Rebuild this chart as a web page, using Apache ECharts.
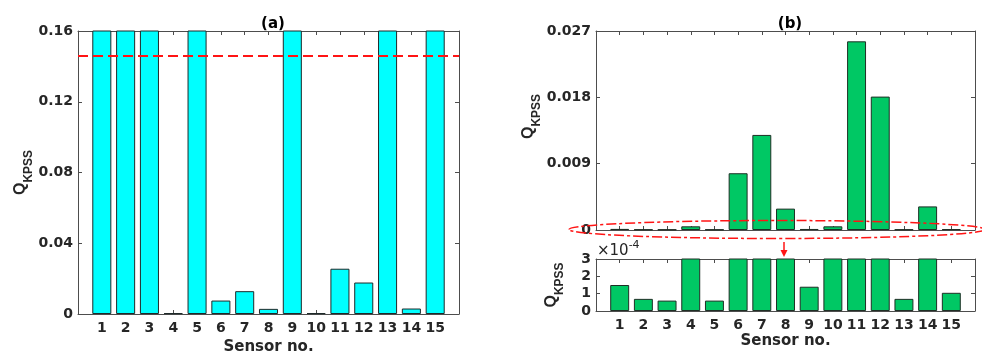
<!DOCTYPE html>
<html><head><meta charset="utf-8">
<script src="https://cdn.jsdelivr.net/npm/echarts@6/dist/echarts.min.js"></script>
<style>html,body{margin:0;padding:0;background:#fff}#c{width:982px;height:354px}</style>
</head><body><div id="c"></div>
<script>
// ---- data ----
const sensors = [1, 2, 3, 4, 5, 6, 7, 8, 9, 10, 11, 12, 13, 14, 15];
// (a) raw KPSS statistic (sensors 1,2,3,5,9,13,15 exceed the 0.16 axis limit)
const qA = [0.62, 0.55, 0.48, 0.0005, 0.41, 0.0076, 0.0129, 0.0029, 0.36, 0.0005, 0.0256, 0.0178, 0.30, 0.0031, 0.44];
// (b) after processing
const qB = [0.00015, 0.00007, 0.00006, 0.0005, 0.00006, 0.0077, 0.0129, 0.0029, 0.00014, 0.0005, 0.0256, 0.0181, 0.00007, 0.0032, 0.000105];
const threshold = 0.146;
const yTicksA = [0, 0.04, 0.08, 0.12, 0.16];
const yTicksB = [0, 0.009, 0.018, 0.027];
const yTicksZoom = [0, 0.0001, 0.0002, 0.0003];
const titles = ['(a)', '(b)'];
const xName = 'Sensor no.';

// ---- styles ----
const FONT = 'DejaVu Sans';
const NFONT = 'Liberation Sans';
const TXT = '#262626';
const AX = '#4d4d4d';
function yNameStyle(shiftPad) {
  return {
    padding: [0, 0, 0, shiftPad],
    rich: {
      q: { fontFamily: NFONT, fontWeight: 'bold', fontSize: 16, lineHeight: 16, color: TXT },
      s: { fontFamily: NFONT, fontWeight: 'bold', fontSize: 12, lineHeight: 12, color: TXT, padding: [16, 0, 0, 0] }
    }
  };
}

function xAxes(gi, showLabels, withName) {
  return [
    {
      type: 'value', gridIndex: gi, position: 'bottom', min: 0, max: 16,
      axisLine: { show: true, onZero: false, lineStyle: { color: AX, width: 1 } },
      axisTick: { show: true, inside: true, length: 4, lineStyle: { color: AX }, customValues: sensors },
      axisLabel: { show: showLabels, customValues: sensors, fontFamily: FONT, fontWeight: 'bold', fontSize: 14, color: TXT, margin: 7 },
      splitLine: { show: false },
      name: withName ? xName : '', nameLocation: 'middle', nameGap: 23,
      nameTextStyle: { fontFamily: FONT, fontWeight: 'bold', fontSize: 15, color: TXT }
    },
    {
      type: 'value', gridIndex: gi, position: 'top', min: 0, max: 16,
      axisLine: { show: true, onZero: false, lineStyle: { color: AX, width: 1 } },
      axisTick: { show: true, inside: true, length: 4, lineStyle: { color: AX }, customValues: sensors },
      axisLabel: { show: false }, splitLine: { show: false }
    }
  ];
}
function yAxes(gi, max, ticks, fmt, nameGap, shiftPad) {
  return [
    {
      type: 'value', gridIndex: gi, position: 'left', min: 0, max: max,
      axisLine: { show: true, onZero: false, lineStyle: { color: AX, width: 1 } },
      axisTick: { show: true, inside: true, length: 4, lineStyle: { color: AX }, customValues: ticks },
      axisLabel: { show: true, customValues: ticks, formatter: fmt, fontFamily: FONT, fontWeight: 'bold', fontSize: 14, color: TXT, margin: 5 },
      splitLine: { show: false },
      name: '{q|Q}{s|KPSS}', nameLocation: 'middle', nameRotate: 90, nameGap: nameGap,
      nameTextStyle: yNameStyle(shiftPad)
    },
    {
      type: 'value', gridIndex: gi, position: 'right', min: 0, max: max,
      axisLine: { show: true, onZero: false, lineStyle: { color: AX, width: 1 } },
      axisTick: { show: true, inside: true, length: 4, lineStyle: { color: AX }, customValues: ticks },
      axisLabel: { show: false }, splitLine: { show: false }
    }
  ];
}

const fmtA = v => v === 0 ? '0' : v.toFixed(2);
const fmtB = v => v === 0 ? '0' : v.toFixed(3);
const fmtZ = v => String(Math.round(v * 1e4));

const toPairs = arr => sensors.map((s, i) => [s, arr[i]]);

const gridBase = { containLabel: false, outerBoundsMode: 'none' };

const option = {
  animation: false,
  backgroundColor: '#fff',
  title: [
    { text: titles[0], left: 268, top: 12, textAlign: 'center', textStyle: { fontFamily: FONT, fontWeight: 'bold', fontSize: 15, color: '#000' } },
    { text: titles[1], left: 785, top: 12, textAlign: 'center', textStyle: { fontFamily: FONT, fontWeight: 'bold', fontSize: 15, color: '#000' } }
  ],
  grid: [
    Object.assign({ left: 78, top: 31, width: 381, height: 283 }, gridBase),
    Object.assign({ left: 596, top: 31, width: 379, height: 199 }, gridBase),
    Object.assign({ left: 596, top: 259, width: 379, height: 52 }, gridBase)
  ],
  xAxis: [].concat(xAxes(0, true, true), xAxes(1, false, false), xAxes(2, true, true)),
  yAxis: [].concat(
    yAxes(0, 0.16, yTicksA, fmtA, 41, 0),
    yAxes(1, 0.027, yTicksB, fmtB, 57, 28),
    yAxes(2, 0.0003, yTicksZoom, fmtZ, 36, 0)
  ),
  series: [
    {
      type: 'bar', xAxisIndex: 0, yAxisIndex: 0, data: toPairs(qA), barWidth: '80%',
      itemStyle: { color: '#00FFFF', borderColor: '#1f2a2a', borderWidth: 1 },
      markLine: {
        silent: true, symbol: 'none', precision: 4, label: { show: false },
        lineStyle: { color: '#ff1414', width: 2, type: [10, 5] },
        data: [{ yAxis: threshold }]
      }
    },
    {
      type: 'bar', xAxisIndex: 2, yAxisIndex: 2, data: toPairs(qB), barWidth: '80%',
      itemStyle: { color: '#00C864', borderColor: '#1e2f25', borderWidth: 1 }
    },
    {
      type: 'bar', xAxisIndex: 4, yAxisIndex: 4, data: toPairs(qB), barWidth: '80%',
      itemStyle: { color: '#00C864', borderColor: '#1e2f25', borderWidth: 1 }
    }
  ],
  graphic: [
    {
      type: 'text', left: 597, top: 240,
      style: { text: '{a|×10}{b|-4}', rich: {
        a: { fontFamily: FONT, fontSize: 15, fill: TXT, padding: [6, 0, 0, 0] },
        b: { fontFamily: FONT, fontSize: 11, fill: TXT, padding: [0, 0, 6, 0] }
      } }
    },
    {
      type: 'ellipse', shape: { cx: 777, cy: 229.5, rx: 208, ry: 9 },
      style: { fill: 'none', stroke: '#ff1414', lineWidth: 1.5, lineDash: [10, 3, 3, 3] }, z: 100
    },
    { type: 'line', shape: { x1: 784, y1: 242, x2: 784, y2: 252 }, style: { stroke: '#ff1414', lineWidth: 1.5 }, z: 100 },
    { type: 'polygon', shape: { points: [[780.5, 250], [787.5, 250], [784, 257]] }, style: { fill: '#ff1414' }, z: 100 }
  ]
};

const chart = echarts.init(document.getElementById('c'), null, { renderer: 'canvas' });
chart.setOption(option);
</script>
</body></html>
